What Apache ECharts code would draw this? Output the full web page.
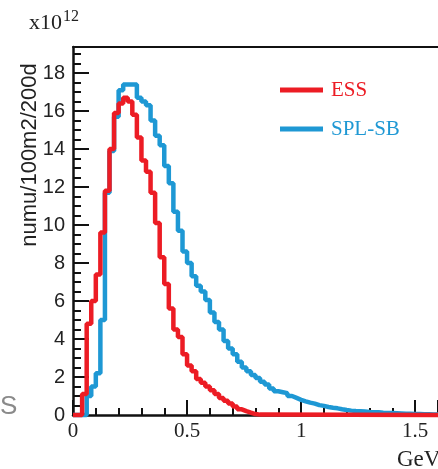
<!DOCTYPE html>
<html>
<head>
<meta charset="utf-8">
<script src="https://cdn.jsdelivr.net/npm/echarts@6/dist/echarts.min.js"></script>
<style>
  html, body { margin: 0; padding: 0; background: #fff; overflow: hidden; }
  #chart { width: 438px; height: 469px; }
</style>
</head>
<body>
<div id="chart"></div>
<script>
// histogram bins: 0.02 GeV wide, starting at 0
const binStart = 0;
const binWidth = 0.02;
const xEnd = 1.6;
const yEnd = 19.37;

// flux (x10^12) per bin
const essValues = [
  0, 0, 1.1, 4.8, 6.0, 7.4, 9.6, 11.8, 14.0, 15.9,
  16.4, 16.7, 16.5, 15.8, 14.6, 13.4, 12.8, 11.7, 10.1, 8.3,
  6.9, 5.6, 4.5, 4.1, 3.2, 2.6, 2.3, 1.9, 1.7, 1.5,
  1.3, 1.1, 0.9, 0.75, 0.6, 0.45, 0.3, 0.2, 0.12, 0.05,
  0.02, 0
];
const splValues = [
  0, 0, 0, 1.0, 1.5, 2.2, 5.0, 11.7, 13.9, 15.7,
  17.1, 17.4, 17.4, 17.4, 16.7, 16.5, 16.3, 15.5, 14.7, 14.2,
  13.1, 12.2, 10.7, 9.7, 8.6, 8.0, 7.3, 6.8, 6.5, 6.05,
  5.4, 4.9, 4.5, 3.9, 3.5, 3.2, 2.8, 2.5, 2.3, 2.1,
  1.95, 1.75, 1.6, 1.4, 1.25, 1.2, 1.15, 1.0, 0.9, 0.8,
  0.72, 0.65, 0.6, 0.52, 0.48, 0.42, 0.38, 0.35, 0.3, 0.26,
  0.23, 0.21, 0.2, 0.18, 0.16, 0.15, 0.14, 0.12, 0.11, 0.1,
  0.09, 0.08, 0.07, 0.06, 0.05, 0.05, 0.04, 0.04, 0.03, 0.03
];

const seriesNames = ["ESS", "SPL-SB"];
const colors = ["#ec1c24", "#1e98d4"];

function histPoints(values) {
  const pts = values.map((v, i) => [binStart + i * binWidth, v]);
  pts.push([xEnd, values[values.length - 1]]);
  return pts;
}

const SANS = "Liberation Sans";
const SERIF = "Liberation Serif";
const INK = "#111";
const plotRect = { left: 73, top: 47, right: -5, bottom: 54 };

const chart = echarts.init(document.getElementById("chart"));
const option = {
  animation: false,
  backgroundColor: "#fff",
  // grid 0 carries the visible frame, ticks and labels; grid 1 (same rect) carries the data
  grid: [Object.assign({}, plotRect), Object.assign({}, plotRect)],
  title: {
    left: 24,
    top: 4,
    text: "{a|x10}{b|12}",
    textStyle: {
      rich: {
        a: { fontFamily: SERIF, fontSize: 22, fontWeight: "normal", color: "#222" },
        b: { fontFamily: SERIF, fontSize: 16, fontWeight: "normal", color: "#222", padding: [0, 0, 12, 1] }
      }
    }
  },
  legend: {
    orient: "vertical",
    left: 275,
    top: 73,
    itemWidth: 43,
    itemHeight: 5,
    itemGap: 15,
    icon: "rect",
    data: [
      { name: seriesNames[0], textStyle: { color: colors[0] } },
      { name: seriesNames[1], textStyle: { color: colors[1] } }
    ],
    textStyle: { fontFamily: SERIF, fontSize: 21, lineHeight: 24, padding: [0, 0, 0, 3] }
  },
  xAxis: [
    {
      gridIndex: 0,
      type: "value",
      min: 0,
      max: xEnd,
      interval: 0.5,
      axisLine: { show: true, onZero: false, lineStyle: { color: INK, width: 2.5 } },
      axisTick: { show: true, inside: true, length: 15, lineStyle: { color: INK, width: 2 } },
      minorTick: { show: true, splitNumber: 5, length: 7, lineStyle: { color: INK, width: 2 } },
      splitLine: { show: false },
      axisLabel: { fontFamily: SERIF, fontSize: 21, color: "#222", margin: 6, showMaxLabel: false }
    },
    {
      // top frame line
      gridIndex: 0,
      type: "value",
      position: "top",
      min: 0,
      max: xEnd,
      axisLine: { show: true, onZero: false, lineStyle: { color: INK, width: 2 } },
      axisTick: { show: false },
      minorTick: { show: false },
      axisLabel: { show: false },
      splitLine: { show: false }
    },
    {
      gridIndex: 1,
      type: "value",
      min: 0,
      max: xEnd,
      show: false
    }
  ],
  yAxis: [
    {
      gridIndex: 0,
      type: "value",
      min: 0,
      max: yEnd,
      interval: 2,
      axisLine: { show: true, onZero: false, lineStyle: { color: INK, width: 2.5 } },
      axisTick: { show: true, inside: true, length: 16, lineStyle: { color: INK, width: 2 } },
      minorTick: { show: true, splitNumber: 4, length: 8, lineStyle: { color: INK, width: 2 } },
      splitLine: { show: false },
      axisLabel: { fontFamily: SANS, fontSize: 20, color: "#222", margin: 8, showMaxLabel: false }
    },
    {
      gridIndex: 1,
      type: "value",
      min: 0,
      max: yEnd,
      show: false
    }
  ],
  graphic: [
    {
      type: "text",
      x: 30,
      y: 155,
      rotation: Math.PI / 2,
      style: {
        text: "numu/100m2/200d",
        fontFamily: SANS,
        fontSize: 22,
        fill: "#222",
        align: "center",
        verticalAlign: "middle"
      }
    },
    {
      type: "text",
      x: 397,
      y: 460,
      style: { text: "GeV", fontFamily: SERIF, fontSize: 23, fill: "#222", verticalAlign: "middle" }
    },
    {
      type: "text",
      x: 0,
      y: 407,
      style: { text: "S", fontFamily: SANS, fontSize: 26, fill: "#8a8a8a", verticalAlign: "middle" }
    }
  ],
  series: [
    {
      name: seriesNames[1],
      type: "line",
      xAxisIndex: 2,
      yAxisIndex: 1,
      step: "end",
      symbol: "none",
      clip: false,
      lineStyle: { color: colors[1], width: 4.5 },
      itemStyle: { color: colors[1] },
      data: histPoints(splValues)
    },
    {
      name: seriesNames[0],
      type: "line",
      xAxisIndex: 2,
      yAxisIndex: 1,
      step: "end",
      symbol: "none",
      clip: false,
      lineStyle: { color: colors[0], width: 4.5 },
      itemStyle: { color: colors[0] },
      data: histPoints(essValues)
    }
  ]
};
chart.setOption(option);
</script>
</body>
</html>
